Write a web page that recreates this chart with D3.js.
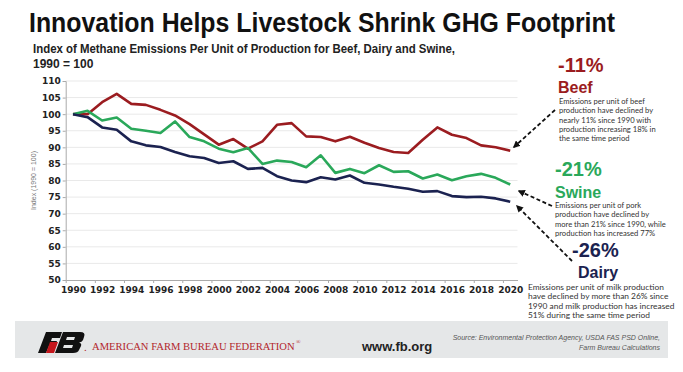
<!DOCTYPE html>
<html lang="en">
<head>
    <meta charset="UTF-8">
    <title>Innovation Helps Livestock Shrink GHG Footprint</title>
    <script src="https://cdn.jsdelivr.net/npm/d3@7"></script>
    <style>
        body { margin: 0; background: #fff; }
        svg { display: block; }
    </style>
</head>
<body>
<script>
    var width = 683;
    var height = 372;

    // data
    var years = d3.range(1990, 2021);
    var beef = [100, 100, 103.6, 106.1, 103.1, 102.8, 101.3, 99.6, 97.0, 93.9, 90.8, 92.5, 89.6, 91.8, 96.8,
        97.3, 93.3, 93.1, 91.8, 93.2, 91.4, 89.8, 88.6, 88.3, 92.3, 96.0, 93.8, 92.8, 90.6, 90.0, 89.0];
    var swine = [100, 101, 98.1, 99.0, 95.6, 95.0, 94.3, 97.8, 93.1, 91.8, 89.6, 88.5, 89.8, 85.0, 86.0,
        85.6, 84.0, 87.6, 82.3, 83.5, 82.2, 84.6, 82.6, 82.8, 80.6, 81.8, 80.1, 81.3, 82.0, 80.8, 78.8];
    var dairy = [100, 99.1, 96.0, 95.3, 91.8, 90.6, 90.1, 88.6, 87.3, 86.8, 85.3, 85.8, 83.5, 83.8, 81.3,
        80.0, 79.5, 81.0, 80.3, 81.5, 79.3, 78.8, 78.1, 77.5, 76.6, 76.8, 75.3, 75.0, 75.1, 74.6, 73.6];
    var yTicks = d3.range(50, 111, 5);
    var xTicks = d3.range(1990, 2021, 2);

    var seriesNames = ["Beef", "Swine", "Dairy"];
    var seriesColors = ["#9b1c20", "#2aa85a", "#1b2250"];

    var svg = d3.select("body").append("svg")
            .attr("width", width)
            .attr("height", height);

    // title + subtitle
    svg.append("text")
            .attr("x", 29).attr("y", 32)
            .attr("textLength", 586).attr("lengthAdjust", "spacingAndGlyphs")
            .style("font-family", "'Liberation Sans Narrow', 'Arial Narrow', sans-serif")
            .style("font-weight", "bold").style("font-size", "27px").style("fill", "#111")
            .text("Innovation Helps Livestock Shrink GHG Footprint");
    svg.append("text")
            .attr("x", 33).attr("y", 53)
            .attr("textLength", 422).attr("lengthAdjust", "spacingAndGlyphs")
            .style("font-family", "'Liberation Sans Narrow', 'Arial Narrow', sans-serif")
            .style("font-weight", "bold").style("font-size", "12px").style("fill", "#222")
            .text("Index of Methane Emissions Per Unit of Production for Beef, Dairy and Swine,");
    svg.append("text")
            .attr("x", 33).attr("y", 68)
            .style("font-family", "'Liberation Sans Narrow', 'Arial Narrow', sans-serif")
            .style("font-weight", "bold").style("font-size", "12px").style("fill", "#222")
            .text("1990 = 100");

    // scales
    var x = d3.scaleLinear().domain([1989.5, 2020.5]).range([65.7, 517.5]);
    var y = d3.scaleLinear().domain([50, 110]).range([280, 81]);

    // gridlines
    svg.append("g").selectAll("line")
            .data(yTicks.slice(1))
            .enter().append("line")
            .attr("x1", x(1989.5)).attr("x2", x(2020.5))
            .attr("y1", function (d) { return y(d); })
            .attr("y2", function (d) { return y(d); })
            .style("stroke", "#e9e9e9").style("stroke-width", 1);

    // y axis
    var yAxis = svg.append("g")
            .attr("transform", "translate(" + x(1989.5) + ",0)")
            .call(d3.axisLeft(y).tickValues(yTicks).tickSize(3).tickPadding(2));
    yAxis.select(".domain").style("stroke", "#aaa");
    yAxis.selectAll(".tick line").style("stroke", "#aaa");
    yAxis.selectAll("text")
            .style("font-family", "'DejaVu Sans', Verdana, sans-serif")
            .style("font-weight", "bold").style("font-size", "9px").style("fill", "#222");

    // x axis: labels + boundary tick marks
    var xAxis = svg.append("g")
            .attr("transform", "translate(0," + y(50) + ")")
            .call(d3.axisBottom(x).tickValues(xTicks).tickSize(0).tickPadding(7).tickFormat(d3.format("d")));
    xAxis.select(".domain").style("stroke", "#aaa");
    xAxis.selectAll("text")
            .style("font-family", "'DejaVu Sans', Verdana, sans-serif")
            .style("font-weight", "bold").style("font-size", "9px").style("fill", "#222");
    var xMarks = svg.append("g")
            .attr("transform", "translate(0," + y(50) + ")")
            .call(d3.axisBottom(x).tickValues(d3.range(1989.5, 2021, 2)).tickSize(3).tickFormat(""));
    xMarks.select(".domain").remove();
    xMarks.selectAll(".tick line").style("stroke", "#aaa");

    // y axis title
    svg.append("text")
            .attr("transform", "translate(36," + y(80) + ") rotate(-90)")
            .attr("text-anchor", "middle")
            .style("font-family", "'Liberation Sans', Arial, sans-serif")
            .style("font-size", "7px").style("fill", "#777")
            .text("Index (1990 = 100)");

    // lines
    var line = d3.line()
            .x(function (d, i) { return x(years[i]); })
            .y(function (d) { return y(d); });
    var allSeries = [beef, swine, dairy];
    svg.append("g").selectAll("path")
            .data(allSeries)
            .enter().append("path")
            .attr("d", line)
            .style("fill", "none")
            .style("stroke", function (d, i) { return seriesColors[i]; })
            .style("stroke-width", 2.6)
            .style("stroke-linejoin", "round");

    // annotations
    svg.append("defs").append("marker")
            .attr("id", "head").attr("viewBox", "0 0 10 10")
            .attr("refX", 8).attr("refY", 5)
            .attr("markerWidth", 4).attr("markerHeight", 4)
            .attr("orient", "auto")
            .append("path").attr("d", "M0,0 L10,5 L0,10 z").style("fill", "#111");

    var notes = [
        {pct: "-11%", name: "Beef", px: 558, py: 72, nx: 558, ny: 93, tx: 559, ty: 104, fs: 7.6, lh: 9.3,
            lines: ["Emissions per unit of beef", "production  have declined by", "nearly 11% since 1990 with",
                "production  increasing 18% in", "the same time period"],
            arrow: [[555, 110], [514, 147]]},
        {pct: "-21%", name: "Swine", px: 555, py: 176, nx: 555, ny: 198, tx: 555, ty: 208, fs: 7.6, lh: 9.3,
            lines: ["Emissions per unit of pork", "production  have declined by",
                "more than 21% since 1990, while", "production has increased 77%"],
            arrow: [[552, 206], [519, 191]]},
        {pct: "-26%", name: "Dairy", px: 572, py: 257, nx: 578, ny: 278, tx: 528, ty: 290, fs: 8.4, lh: 9.3,
            lines: ["Emissions per unit of milk production", "have declined by more than 26% since",
                "1990 and milk production  has increased", "51% during the same time period"],
            arrow: [[572, 261], [517, 206]]}
    ];

    var noteG = svg.append("g").selectAll("g")
            .data(notes)
            .enter().append("g");
    noteG.append("text")
            .attr("x", function (d) { return d.px; })
            .attr("y", function (d) { return d.py; })
            .style("font-family", "'Liberation Sans', Arial, sans-serif")
            .style("font-weight", "bold").style("font-size", "20px")
            .style("fill", function (d, i) { return seriesColors[i]; })
            .text(function (d) { return d.pct; });
    noteG.append("text")
            .attr("x", function (d) { return d.nx; })
            .attr("y", function (d) { return d.ny; })
            .style("font-family", "'Liberation Sans', Arial, sans-serif")
            .style("font-weight", "bold").style("font-size", "16px")
            .style("fill", function (d, i) { return seriesColors[i]; })
            .text(function (d) { return d.name; });
    noteG.each(function (d) {
        var g = d3.select(this);
        g.selectAll("text.body")
                .data(d.lines)
                .enter().append("text")
                .attr("class", "body")
                .attr("x", d.tx)
                .attr("y", function (t, j) { return d.ty + j * d.lh; })
                .style("font-family", "Lato, 'Open Sans', sans-serif")
                .style("font-size", d.fs + "px").style("fill", "#333")
                .text(function (t) { return t; });
        g.append("line")
                .attr("x1", d.arrow[0][0]).attr("y1", d.arrow[0][1])
                .attr("x2", d.arrow[1][0]).attr("y2", d.arrow[1][1])
                .style("stroke", "#111").style("stroke-width", 1.8)
                .style("stroke-dasharray", "4,2.5")
                .attr("marker-end", "url(#head)");
    });

    // footer band
    svg.append("rect")
            .attr("x", 15).attr("y", 321).attr("width", 653).attr("height", 37)
            .style("fill", "#e5e7e8");
    // FB logo (simplified)
    var logo = svg.append("g").attr("transform", "translate(42,332)");
    logo.append("path").attr("d", "M4,0 L20,0 L18,6 L10,6 L9,9 L15,9 L13,14 L7,14 L4,21 L-4,21 Z").style("fill", "#111");
    logo.append("path").attr("d", "M8,10 L16,10 L12,21 L4,21 Z").style("fill", "#c4161c");
    logo.append("path").attr("d", "M21,0 L38,0 Q44,0 42,5 L41,8 Q40,10 37,10.5 Q40,11.5 39,14 L37,18 Q36,21 31,21 L13,21 Z").style("fill", "#111");
    logo.append("path").attr("d", "M25,5 L33,5 L32,8 L24,8 Z M22,13 L31,13 L30,16 L21,16 Z").style("fill", "#e5e7e8");
    svg.append("text")
            .attr("x", 84).attr("y", 351)
            .style("font-family", "'Liberation Serif', serif").style("font-size", "11px").style("fill", "#b3262b")
            .text(".");
    var afbf = svg.append("text")
            .attr("x", 92).attr("y", 350)
            .style("font-family", "'Liberation Serif', 'Times New Roman', serif")
            .style("font-size", "10.6px").style("fill", "#b3262b")
            .text("AMERICAN FARM BUREAU FEDERATION");
    var afbfW = afbf.node().getComputedTextLength();
    svg.append("text")
            .attr("x", 92 + afbfW + 1.5).attr("y", 344)
            .style("font-family", "'Liberation Serif', serif").style("font-size", "6px").style("fill", "#b3262b")
            .text("®");
    svg.append("text")
            .attr("x", 362).attr("y", 351)
            .style("font-family", "'Liberation Sans', Arial, sans-serif")
            .style("font-weight", "bold").style("font-size", "13px").style("fill", "#222")
            .text("www.fb.org");
    svg.append("text")
            .attr("x", 660).attr("y", 340).attr("text-anchor", "end")
            .style("font-family", "'Liberation Sans Narrow', 'Liberation Sans', sans-serif")
            .style("font-style", "italic").style("font-size", "7px").style("fill", "#555")
            .text("Source: Environmental Protection Agency, USDA FAS PSD Online,");
    svg.append("text")
            .attr("x", 660).attr("y", 350).attr("text-anchor", "end")
            .style("font-family", "'Liberation Sans Narrow', 'Liberation Sans', sans-serif")
            .style("font-style", "italic").style("font-size", "7px").style("fill", "#555")
            .text("Farm Bureau Calculations");
</script>
</body>
</html>
